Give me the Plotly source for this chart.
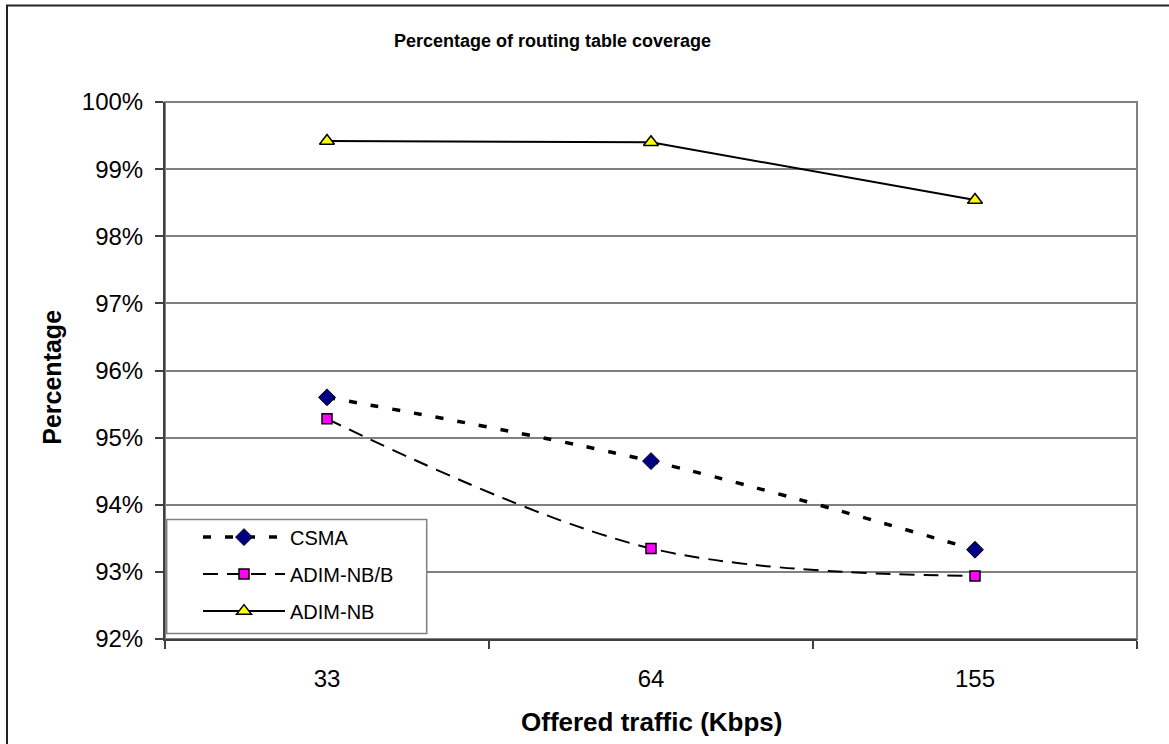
import plotly.graph_objects as go

# Offered traffic categories (Kbps)
traffic = ["33", "64", "155"]

# Routing table coverage (%) for each scheme
csma = [95.60, 94.65, 93.33]
adim_nb_b = [95.28, 93.35, 92.94]
adim_nb = [99.42, 99.40, 98.54]

y_ticks = [92, 93, 94, 95, 96, 97, 98, 99, 100]
y_tick_labels = ["92%", "93%", "94%", "95%", "96%", "97%", "98%", "99%", "100%"]

FONT = "Arial, Liberation Sans, sans-serif"

W, H = 1169, 744
L, R, T, B = 165, 32, 102, 104.5
PW, PH = W - L - R, H - T - B


def px_x(px):
    return (px - L) / PW


def px_y(py):
    return (H - B - py) / PH


fig = go.Figure()

fig.add_trace(go.Scatter(
    x=traffic, y=csma, name="CSMA", mode="lines+markers",
    line=dict(color="black", width=3.5, dash="8px,14px", shape="spline", smoothing=1.0),
    marker=dict(symbol="diamond", size=13, color="#000080", line=dict(color="black", width=1)),
    legendgroup="a",
))
fig.add_trace(go.Scatter(
    x=traffic, y=adim_nb_b, name="ADIM-NB/B", mode="lines+markers",
    line=dict(color="black", width=2, dash="15px,9px", shape="spline", smoothing=1.0),
    marker=dict(symbol="square", size=10, color="#FF00FF", line=dict(color="black", width=1.5)),
    legendgroup="b",
))
fig.add_trace(go.Scatter(
    x=traffic, y=adim_nb, name="ADIM-NB", mode="lines+markers",
    line=dict(color="black", width=2),
    marker=dict(symbol="triangle-up", size=13, color="#FFFF00", line=dict(color="black", width=1.5)),
    legendgroup="c",
))

shapes = [
    # outer chart frame
    dict(type="rect", xref="paper", yref="paper",
         x0=px_x(7), x1=px_x(1300), y0=px_y(900), y1=px_y(5.5),
         line=dict(color="#222222", width=2), fillcolor="rgba(0,0,0,0)", layer="below"),
    # plot area frame
    dict(type="rect", xref="paper", yref="paper", x0=0, x1=1, y0=0, y1=1,
         line=dict(color="#808080", width=2), fillcolor="rgba(0,0,0,0)", layer="below"),
    # legend box
    dict(type="rect", xref="paper", yref="paper",
         x0=px_x(166.7), x1=px_x(426.7), y0=px_y(634), y1=px_y(520),
         line=dict(color="#808080", width=1.5), fillcolor="white", layer="above"),
]

annotations = [
    dict(text="<b>Percentage of routing table coverage</b>", xref="paper", yref="paper",
         x=px_x(552), y=px_y(41), xanchor="center", yanchor="middle", showarrow=False,
         font=dict(family=FONT, size=18, color="black")),
    dict(text="<b>Offered traffic (Kbps)</b>", xref="paper", yref="paper",
         x=px_x(651.7), y=px_y(723), xanchor="center", yanchor="middle", showarrow=False,
         font=dict(family=FONT, size=26, color="black")),
    dict(text="<b>Percentage</b>", xref="paper", yref="paper",
         x=px_x(52), y=px_y(378), xanchor="center", yanchor="middle", showarrow=False,
         textangle=-90, font=dict(family=FONT, size=25, color="black")),
]

fig.update_layout(
    width=W, height=H,
    margin=dict(l=L, r=R, t=T, b=B, pad=0),
    paper_bgcolor="white", plot_bgcolor="white",
    font=dict(family=FONT, color="black"),
    shapes=shapes,
    annotations=annotations,
    showlegend=True,
    legend=dict(
        x=px_x(198), y=px_y(518), xanchor="left", yanchor="top",
        bgcolor="rgba(0,0,0,0)", borderwidth=0,
        font=dict(family=FONT, size=20, color="black"),
        itemwidth=82, traceorder="grouped", tracegroupgap=8,
    ),
    xaxis=dict(
        type="category", range=[-0.5, 2.5], tickson="boundaries",
        ticks="outside", ticklen=8, tickcolor="#404040", tickwidth=1.5,
        showline=True, linecolor="#404040", linewidth=2,
        showgrid=False, zeroline=False,
        tickfont=dict(family=FONT, size=24, color="black"),
        ticklabelstandoff=17,
    ),
    yaxis=dict(
        range=[92, 100], tickmode="array", tickvals=y_ticks, ticktext=y_tick_labels,
        ticks="outside", ticklen=8, tickcolor="#404040", tickwidth=1.5,
        showline=True, linecolor="#404040", linewidth=2,
        showgrid=True, gridcolor="#808080", gridwidth=1.5, zeroline=False,
        tickfont=dict(family=FONT, size=24, color="black"),
        ticklabelstandoff=7,
    ),
)

fig.write_html("out.html")
